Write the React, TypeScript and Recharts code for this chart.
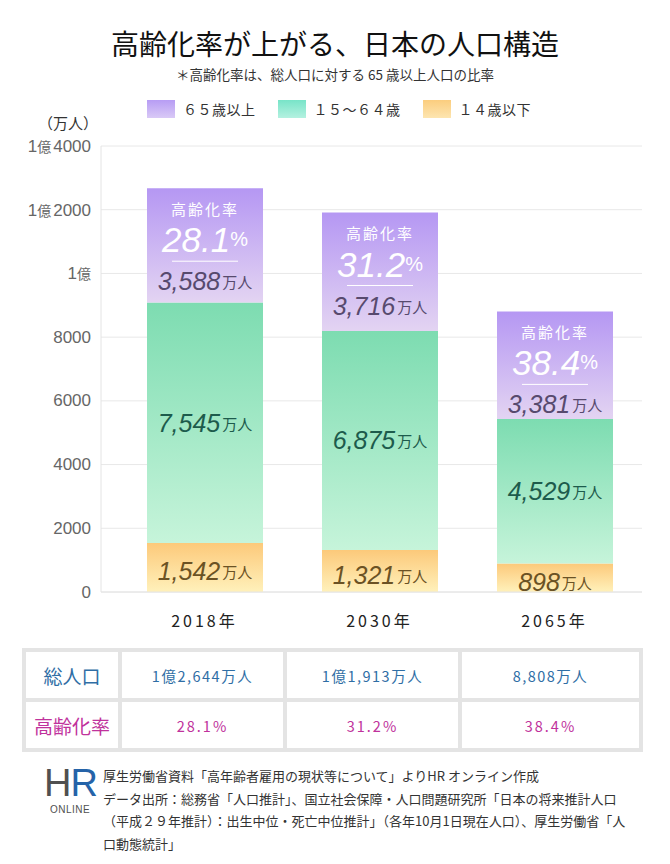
import React from 'react';
import { BarChart, Bar, XAxis, YAxis, CartesianGrid, LabelList } from 'recharts';

const years = ['2018年', '2030年', '2065年'];
const under15 = [1542, 1321, 898];
const age15to64 = [7545, 6875, 4529];
const over65 = [3588, 3716, 3381];
const totals = [12644, 11913, 8808];
const agingRates = [28.1, 31.2, 38.4];
const yTicks = [0, 2000, 4000, 6000, 8000, 10000, 12000, 14000];

const legendItems = [
  { label: '６５歳以上', swatch: 'linear-gradient(to bottom, #b79cf4, #d9c9f6)' },
  { label: '１５〜６４歳', swatch: 'linear-gradient(to bottom, #78e4c8, #b4f1e0)' },
  { label: '１４歳以下', swatch: 'linear-gradient(to bottom, #fbcd7e, #fde5b0)' },
];

const data = years.map((year, i) => ({
  year,
  young: under15[i],
  working: age15to64[i],
  aged: over65[i],
}));

const JP = '"Noto Sans CJK JP", "Noto Sans", sans-serif';
const NUM = '"Liberation Sans", Arial, sans-serif';

const comma = (n: number) => n.toLocaleString('en-US');

const formatTotal = (n: number) =>
  n >= 10000 ? `1億${comma(n - 10000)}万人` : `${comma(n)}万人`;

const YTick = ({ x, y, payload }: any) => {
  const v = payload.value;
  if (v >= 10000) {
    const rest = v - 10000;
    return (
      <text x={x} y={y} textAnchor="end" dominantBaseline="central" fill="#666" fontFamily={NUM} fontSize={17}>
        <tspan>1</tspan>
        <tspan fontFamily={JP} fontSize={14}>億</tspan>
        {rest ? <tspan dx={2}>{rest}</tspan> : null}
      </text>
    );
  }
  return (
    <text x={x} y={y} textAnchor="end" dominantBaseline="central" fill="#666" fontFamily={NUM} fontSize={17}>
      {v}
    </text>
  );
};

const XTick = ({ x, y, payload }: any) => (
  <text x={x} y={y + 20} textAnchor="middle" dominantBaseline="central" fill="#222" fontFamily={JP} fontSize={16} letterSpacing={3}>
    {payload.value}
  </text>
);

const box = (p: any) => {
  const vb = p.viewBox || p;
  return { x: Number(vb.x), y: Number(vb.y), w: Number(vb.width), h: Number(vb.height) };
};

const CountText = ({ cx, cy, value, color }: any) => (
  <text x={cx} y={cy} textAnchor="middle" dominantBaseline="central" fill={color}>
    <tspan fontFamily={NUM} fontStyle="italic" fontSize={25}>{comma(value)}</tspan>
    <tspan fontFamily={JP} fontSize={15} dx={2}>万人</tspan>
  </text>
);

const AgedLabel = (props: any) => {
  const { x, y, w } = box(props);
  const i = props.index;
  const cx = x + w / 2;
  return (
    <g>
      <text x={cx} y={y + 20} textAnchor="middle" dominantBaseline="central" fill="#fff" fontFamily={JP} fontSize={15} letterSpacing={2}>
        高齢化率
      </text>
      <text x={cx} y={y + 51} textAnchor="middle" dominantBaseline="central" fill="#fff">
        <tspan fontFamily={NUM} fontStyle="italic" fontSize={35}>{agingRates[i].toFixed(1)}</tspan>
        <tspan fontFamily={NUM} fontSize={20}>%</tspan>
      </text>
      <line x1={cx - 33} x2={cx + 33} y1={y + 73} y2={y + 73} stroke="#fff" strokeWidth={1} />
      <CountText cx={cx} cy={y + 93} value={over65[i]} color="#574a6e" />
    </g>
  );
};

const WorkingLabel = (props: any) => {
  const { x, y, w, h } = box(props);
  return <CountText cx={x + w / 2} cy={y + h / 2} value={age15to64[props.index]} color="#1d5b4c" />;
};

const YoungLabel = (props: any) => {
  const { x, y, w, h } = box(props);
  return <CountText cx={x + w / 2} cy={y + h / 2 + 4} value={under15[props.index]} color="#6b5224" />;
};

const cell: React.CSSProperties = {
  background: '#fff',
  display: 'flex',
  alignItems: 'center',
  justifyContent: 'center',
};

export default function App() {
  return (
    <div style={{ position: 'absolute', left: 0, top: 0, width: 670, height: 864, background: '#fff', fontFamily: JP }}>
      <div style={{ position: 'absolute', top: 27, width: 670, textAlign: 'center', fontSize: 28, lineHeight: '32px', color: '#111' }}>
        高齢化率が上がる、日本の人口構造
      </div>
      <div style={{ position: 'absolute', top: 66, width: 670, textAlign: 'center', fontSize: 13.5, lineHeight: '17px', color: '#333' }}>
        ＊高齢化率は、総人口に対する 65 歳以上人口の比率
      </div>

      <div style={{ position: 'absolute', top: 99, left: 147, display: 'flex', alignItems: 'center', fontSize: 14, color: '#333' }}>
        {legendItems.map((it) => (
          <div key={it.label} style={{ display: 'flex', alignItems: 'center', marginRight: 22 }}>
            <div style={{ width: 28, height: 18, background: it.swatch, marginRight: 8 }} />
            <span style={{ letterSpacing: 0.5 }}>{it.label}</span>
          </div>
        ))}
      </div>

      <div style={{ position: 'absolute', top: 112, left: 38, fontSize: 15, color: '#333' }}>（万人）</div>

      <div style={{ position: 'absolute', left: 0, top: 0 }}>
        <BarChart width={670} height={640} data={data} margin={{ top: 146, right: 28, bottom: 8, left: 0 }}>
          <defs>
            <linearGradient id="gAged" x1="0" y1="0" x2="0" y2="1">
              <stop offset="0%" stopColor="#b597f3" />
              <stop offset="100%" stopColor="#e3d4f2" />
            </linearGradient>
            <linearGradient id="gWorking" x1="0" y1="0" x2="0" y2="1">
              <stop offset="0%" stopColor="#7ddcb1" />
              <stop offset="100%" stopColor="#c6f4da" />
            </linearGradient>
            <linearGradient id="gYoung" x1="0" y1="0" x2="0" y2="1">
              <stop offset="0%" stopColor="#fcc97a" />
              <stop offset="100%" stopColor="#fff1bb" />
            </linearGradient>
          </defs>
          <CartesianGrid vertical={false} stroke="#e8e8e8" />
          <XAxis
            dataKey="year"
            axisLine={{ stroke: '#e4e4e4' }}
            tickLine={false}
            tick={<XTick />}
            height={40}
            padding={{ left: 16, right: 0 }}
          />
          <YAxis
            width={101}
            domain={[0, 14000]}
            ticks={yTicks}
            axisLine={{ stroke: '#e4e4e4' }}
            tickLine={false}
            tick={<YTick />}
            tickMargin={4}
          />
          <Bar dataKey="young" stackId="a" fill="url(#gYoung)" barSize={116} isAnimationActive={false}>
            <LabelList dataKey="young" content={<YoungLabel />} />
          </Bar>
          <Bar dataKey="working" stackId="a" fill="url(#gWorking)" barSize={116} isAnimationActive={false}>
            <LabelList dataKey="working" content={<WorkingLabel />} />
          </Bar>
          <Bar dataKey="aged" stackId="a" fill="url(#gAged)" barSize={116} isAnimationActive={false}>
            <LabelList dataKey="aged" content={<AgedLabel />} />
          </Bar>
        </BarChart>
      </div>

      <div
        style={{
          position: 'absolute',
          left: 22,
          top: 648,
          width: 621,
          height: 104,
          boxSizing: 'border-box',
          background: '#e4e4e4',
          padding: 4,
          display: 'grid',
          gridTemplateColumns: '92px 161px 171px 177px',
          gridTemplateRows: '46px 46px',
          gap: 4,
        }}
      >
        <div style={{ ...cell, fontSize: 19, color: '#2f6ea5' }}>総人口</div>
        {totals.map((t) => (
          <div key={t} style={{ ...cell, fontSize: 14.5, color: '#2f6ea5', letterSpacing: 1.5 }}>
            {formatTotal(t)}
          </div>
        ))}
        <div style={{ ...cell, fontSize: 19, color: '#c0329c' }}>高齢化率</div>
        {agingRates.map((r) => (
          <div key={r} style={{ ...cell, fontSize: 14.5, color: '#c0329c', letterSpacing: 2 }}>
            {r.toFixed(1)}%
          </div>
        ))}
      </div>

      <div style={{ position: 'absolute', left: 44, top: 764, width: 52, textAlign: 'center' }}>
        <div style={{ fontFamily: NUM, fontSize: 38, lineHeight: '38px', letterSpacing: -1 }}>
          <span style={{ color: '#505050' }}>H</span>
          <span style={{ color: '#2563a8' }}>R</span>
        </div>
        <div style={{ fontFamily: NUM, fontSize: 10, color: '#505050', letterSpacing: 0.5, marginTop: 2 }}>ONLINE</div>
      </div>
      <div style={{ position: 'absolute', left: 103, top: 765, width: 540, fontSize: 13, lineHeight: '22.5px', color: '#333' }}>
        <div>厚生労働省資料「高年齢者雇用の現状等について」よりHR オンライン作成</div>
        <div>データ出所：総務省「人口推計」、国立社会保障・人口問題研究所「日本の将来推計人口</div>
        <div>（平成２９年推計）：出生中位・死亡中位推計」（各年10月1日現在人口）、厚生労働省「人</div>
        <div>口動態統計」</div>
      </div>
    </div>
  );
}
